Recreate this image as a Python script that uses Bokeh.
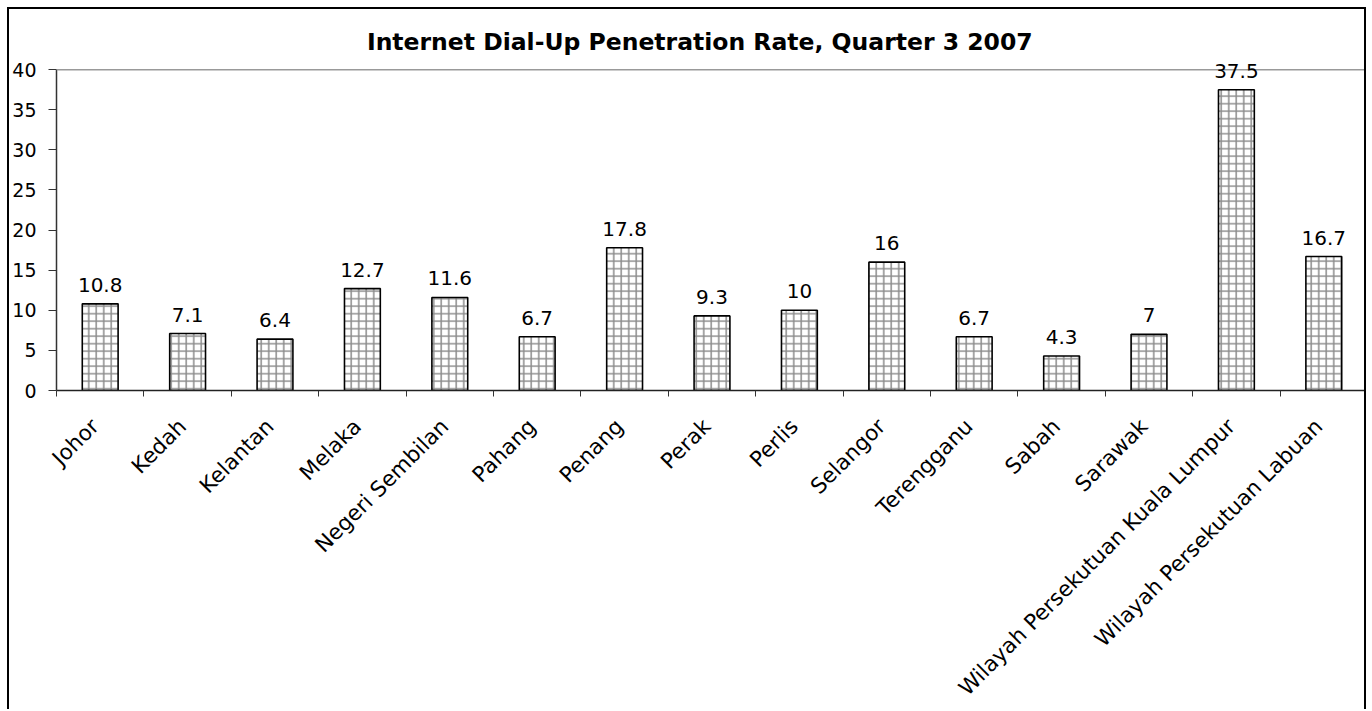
from bokeh.plotting import figure
from bokeh.models import (Range1d, FixedTicker, LinearAxis, ColumnDataSource,
                          LabelSet, Label, Span)
from bokeh.core.properties import value
from bokeh.embed import file_html
from bokeh.resources import INLINE
import math

# ---- data ----
states = ["Johor", "Kedah", "Kelantan", "Melaka", "Negeri Sembilan", "Pahang",
          "Penang", "Perak", "Perlis", "Selangor", "Terengganu", "Sabah",
          "Sarawak", "Wilayah Persekutuan Kuala Lumpur",
          "Wilayah Persekutuan Labuan"]
rates = [10.8, 7.1, 6.4, 12.7, 11.6, 6.7, 17.8, 9.3, 10, 16, 6.7, 4.3, 7, 37.5, 16.7]
y_ticks = [0, 5, 10, 15, 20, 25, 30, 35, 40]
title_text = "Internet Dial-Up Penetration Rate, Quarter 3 2007"

FONT = "DejaVu Sans"

n = len(states)
centers = [i + 0.5 for i in range(n)]
bounds = list(range(n + 1))
label_pos = [c - 0.06 for c in centers]   # label anchor slightly left of centre
labels = [("%g" % v) for v in rates]

src = ColumnDataSource(dict(x=centers, top=rates, lab=labels))

p = figure(width=1359, height=702, output_backend="svg", toolbar_location=None,
           x_range=Range1d(0, n), y_range=Range1d(0, 46),
           x_axis_type=None, y_axis_type=None,
           min_border_left=47, min_border_right=1, min_border_top=12,
           min_border_bottom=321)
p.styles = {"margin-left": "7px", "margin-top": "7px",
            "border-left": "2px solid black", "border-right": "2px solid black",
            "border-top": "2px solid black"}
p.outline_line_color = None
p.background_fill_color = "white"
p.border_fill_color = "white"

# y axis
yax = LinearAxis(ticker=FixedTicker(ticks=y_ticks, minor_ticks=[]),
                 bounds=(y_ticks[0], y_ticks[-1]))
yax.axis_line_color = "#333333"
yax.axis_line_width = 1.5
yax.major_tick_line_color = "#333333"
yax.major_tick_out = 8
yax.major_tick_in = 0
yax.minor_tick_line_color = None
yax.major_label_standoff = 12
yax.major_label_text_font = FONT
yax.major_label_text_font_size = "19px"
yax.major_label_text_color = "black"
p.add_layout(yax, "left")

# x axis: labels at category centres, tick marks between categories
xax = LinearAxis(ticker=FixedTicker(ticks=label_pos, minor_ticks=bounds))
xax.major_label_overrides = {c: s for c, s in zip(label_pos, states)}
xax.major_label_orientation = math.pi / 4
xax.axis_line_color = "#222222"
xax.axis_line_width = 1.5
xax.major_tick_line_color = None
xax.minor_tick_line_color = "#333333"
xax.minor_tick_out = 6
xax.minor_tick_in = 0
xax.major_label_standoff = 26
xax.major_label_text_font = FONT
xax.major_label_text_font_size = "21.5px"
xax.major_label_text_color = "black"
p.add_layout(xax, "below")

# grid
p.ygrid.ticker = FixedTicker(ticks=y_ticks[1:-1])
p.ygrid.grid_line_color = "black"
p.ygrid.grid_line_width = 1
p.xgrid.grid_line_color = None
p.add_layout(Span(location=y_ticks[-1], dimension="width",
                  line_color="#999999", line_width=1.5))

# bars
p.vbar(x="x", top="top", bottom=0, width=0.41, source=src,
       fill_color="white", line_color="black", line_width=1.6,
       hatch_pattern="+", hatch_color="#8c8c8c", hatch_scale=7.5,
       hatch_weight=1.5)

# data labels
ls = LabelSet(x="x", y="top", text="lab", source=src, y_offset=12,
              text_align="center", text_baseline="bottom",
              text_font=value(FONT), text_font_size=value("20px"),
              text_color="black")
p.add_layout(ls)

# title
t = Label(x=7.36, y=43.4, text=title_text, text_align="center",
          text_baseline="middle", text_font=FONT, text_font_size="23.5px",
          text_font_style="bold", text_color="black")
p.add_layout(t)

open("out.html", "w").write(file_html(p, INLINE))
